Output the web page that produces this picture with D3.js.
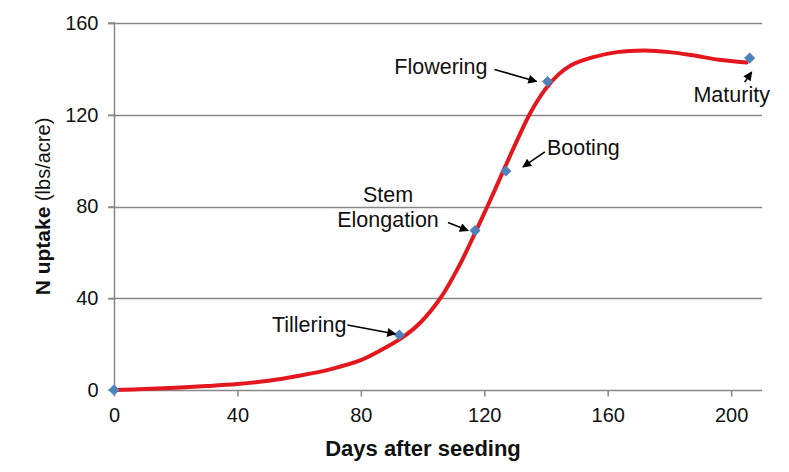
<!DOCTYPE html>
<html>
<head>
<meta charset="utf-8">
<script src="https://cdn.jsdelivr.net/npm/d3@7"></script>
<style>
  html, body { margin: 0; padding: 0; background: #fff; }
  svg { display: block; font-family: "Liberation Sans", Arial, sans-serif; }
</style>
</head>
<body>
<svg id="chart" width="789" height="472"></svg>
<script>
// ---- data ----
const curveDays   = [0, 10, 20, 30, 40, 50, 60, 70, 80, 86, 93, 99, 106, 112, 116.5, 121, 125, 129, 135, 140, 144, 148, 155, 163, 172, 180, 188, 196, 205];
const curveValues = [0, 0.4, 1, 1.7, 2.6, 4, 6.2, 9, 13, 17, 22.5, 29, 40.5, 54.5, 67, 80, 92, 104, 121, 131.5, 137.5, 141.5, 145, 147.3, 148, 147.3, 145.8, 144, 142.8];
const stageNames  = ["", "Tillering", "Stem\nElongation", "Booting", "Flowering", "Maturity"];
const stageDays   = [0, 92.5, 117, 127, 140.5, 206];
const stageValues = [0, 24, 69.5, 95.5, 134.5, 144.7];
const xTicks = [0, 40, 80, 120, 160, 200];
const yTicks = [0, 40, 80, 120, 160];
const xTitle = "Days after seeding";
const yTitleBold = "N uptake";
const yTitleRest = " (lbs/acre)";

// ---- layout ----
const svg = d3.select("#chart");
const x = d3.scaleLinear().domain([0, 210]).range([114, 762]);
const y = d3.scaleLinear().domain([0, 160]).range([390, 23]);
const gridColor = "#878787";
const textColor = "#111";

// gridlines
svg.append("g").selectAll("line").data(yTicks.filter(d => d > 0)).join("line")
  .attr("x1", x(0) - 6).attr("x2", x(210))
  .attr("y1", d => Math.round(y(d)) + 0.5).attr("y2", d => Math.round(y(d)) + 0.5)
  .attr("stroke", gridColor).attr("stroke-width", 1.5);

// y axis
const yAxis = svg.append("g").attr("transform", `translate(${Math.round(x(0)) + 0.5},0)`)
  .call(d3.axisLeft(y).tickValues(yTicks).tickSize(6).tickPadding(10).tickFormat(d3.format("d")));
yAxis.select(".domain").attr("stroke", gridColor).attr("stroke-width", 1.5).attr("d", `M-6,${y(0)}H0V${y(160)}H-6`);
yAxis.selectAll(".tick line").attr("stroke", gridColor).attr("stroke-width", 1.5);
yAxis.selectAll(".tick text").attr("font-size", 20).attr("fill", textColor)
  .attr("font-family", "Liberation Sans, Arial, sans-serif");

// x axis
const xAxis = svg.append("g").attr("transform", `translate(0,${Math.round(y(0)) + 0.5})`)
  .call(d3.axisBottom(x).tickValues(xTicks).tickSize(6).tickPadding(11).tickFormat(d3.format("d")));
xAxis.select(".domain").attr("stroke", gridColor).attr("stroke-width", 1.5).attr("d", `M${x(0)},0H${x(210)}`);
xAxis.selectAll(".tick line").attr("stroke", gridColor).attr("stroke-width", 1.5);
xAxis.selectAll(".tick text").attr("font-size", 20).attr("fill", textColor)
  .attr("font-family", "Liberation Sans, Arial, sans-serif");

// axis titles
svg.append("text").attr("x", (x(0) + x(210)) / 2 - 15).attr("y", 456)
  .attr("text-anchor", "middle").attr("font-size", 22).attr("font-weight", "bold")
  .attr("fill", textColor).text(xTitle);

const yt = svg.append("text")
  .attr("transform", `translate(50,${(y(0) + y(160)) / 2}) rotate(-90)`)
  .attr("text-anchor", "middle").attr("font-size", 21).attr("fill", textColor);
yt.append("tspan").attr("font-weight", "bold").text(yTitleBold);
yt.append("tspan").attr("font-size", 20).text(yTitleRest);

// fitted curve
const curvePts = curveDays.map((d, i) => [d, curveValues[i]]);
svg.append("path").datum(curvePts)
  .attr("d", d3.line().x(d => x(d[0])).y(d => y(d[1])).curve(d3.curveCatmullRom.alpha(0.5)))
  .attr("fill", "none").attr("stroke", "#E3171D").attr("stroke-width", 4)
  .attr("stroke-linecap", "round");

// markers
const stages = stageDays.map((d, i) => ({ day: d, val: stageValues[i], name: stageNames[i] }));
svg.append("g").selectAll("path").data(stages).join("path")
  .attr("transform", d => `translate(${x(d.day)},${y(d.val)}) rotate(45)`)
  .attr("d", d3.symbol().type(d3.symbolSquare).size(62))
  .attr("fill", "#4F81BD");

// arrowhead
svg.append("defs").append("marker")
  .attr("id", "ah").attr("viewBox", "0 0 10 10").attr("refX", 9).attr("refY", 5)
  .attr("markerWidth", 10).attr("markerHeight", 9).attr("markerUnits", "userSpaceOnUse")
  .attr("orient", "auto")
  .append("path").attr("d", "M0,0L10,5L0,10Z").attr("fill", "#000");

// annotation layout (pixel offsets from each marker)
const annotLayout = {
  "Tillering":        { anchor: "end",    tx: -53, ty: -3,  a: [-52, -10, -4, -1] },
  "Stem\nElongation": { anchor: "middle", tx: -87, ty: -29, a: [-27, -8, -7, 0] },
  "Booting":          { anchor: "start",  tx: 41,  ty: -16, a: [39, -19, 17, -4] },
  "Flowering":        { anchor: "end",    tx: -60, ty: -7,  a: [-53, -12, -11, 0] },
  "Maturity":         { anchor: "middle", tx: -18, ty: 44,  a: [-5, 24, 2, 14] }
};

stages.filter(s => s.name).forEach(s => {
  const L = annotLayout[s.name];
  const px = x(s.day), py = y(s.val);
  const t = svg.append("text").attr("text-anchor", L.anchor)
    .attr("font-size", 21.5).attr("fill", textColor);
  s.name.split("\n").forEach((line, i) => {
    t.append("tspan").attr("x", px + L.tx).attr("y", py + L.ty + i * 25).text(line);
  });
  svg.append("line")
    .attr("x1", px + L.a[0]).attr("y1", py + L.a[1])
    .attr("x2", px + L.a[2]).attr("y2", py + L.a[3])
    .attr("stroke", "#000").attr("stroke-width", 1.6)
    .attr("marker-end", "url(#ah)");
});
</script>
</body>
</html>
